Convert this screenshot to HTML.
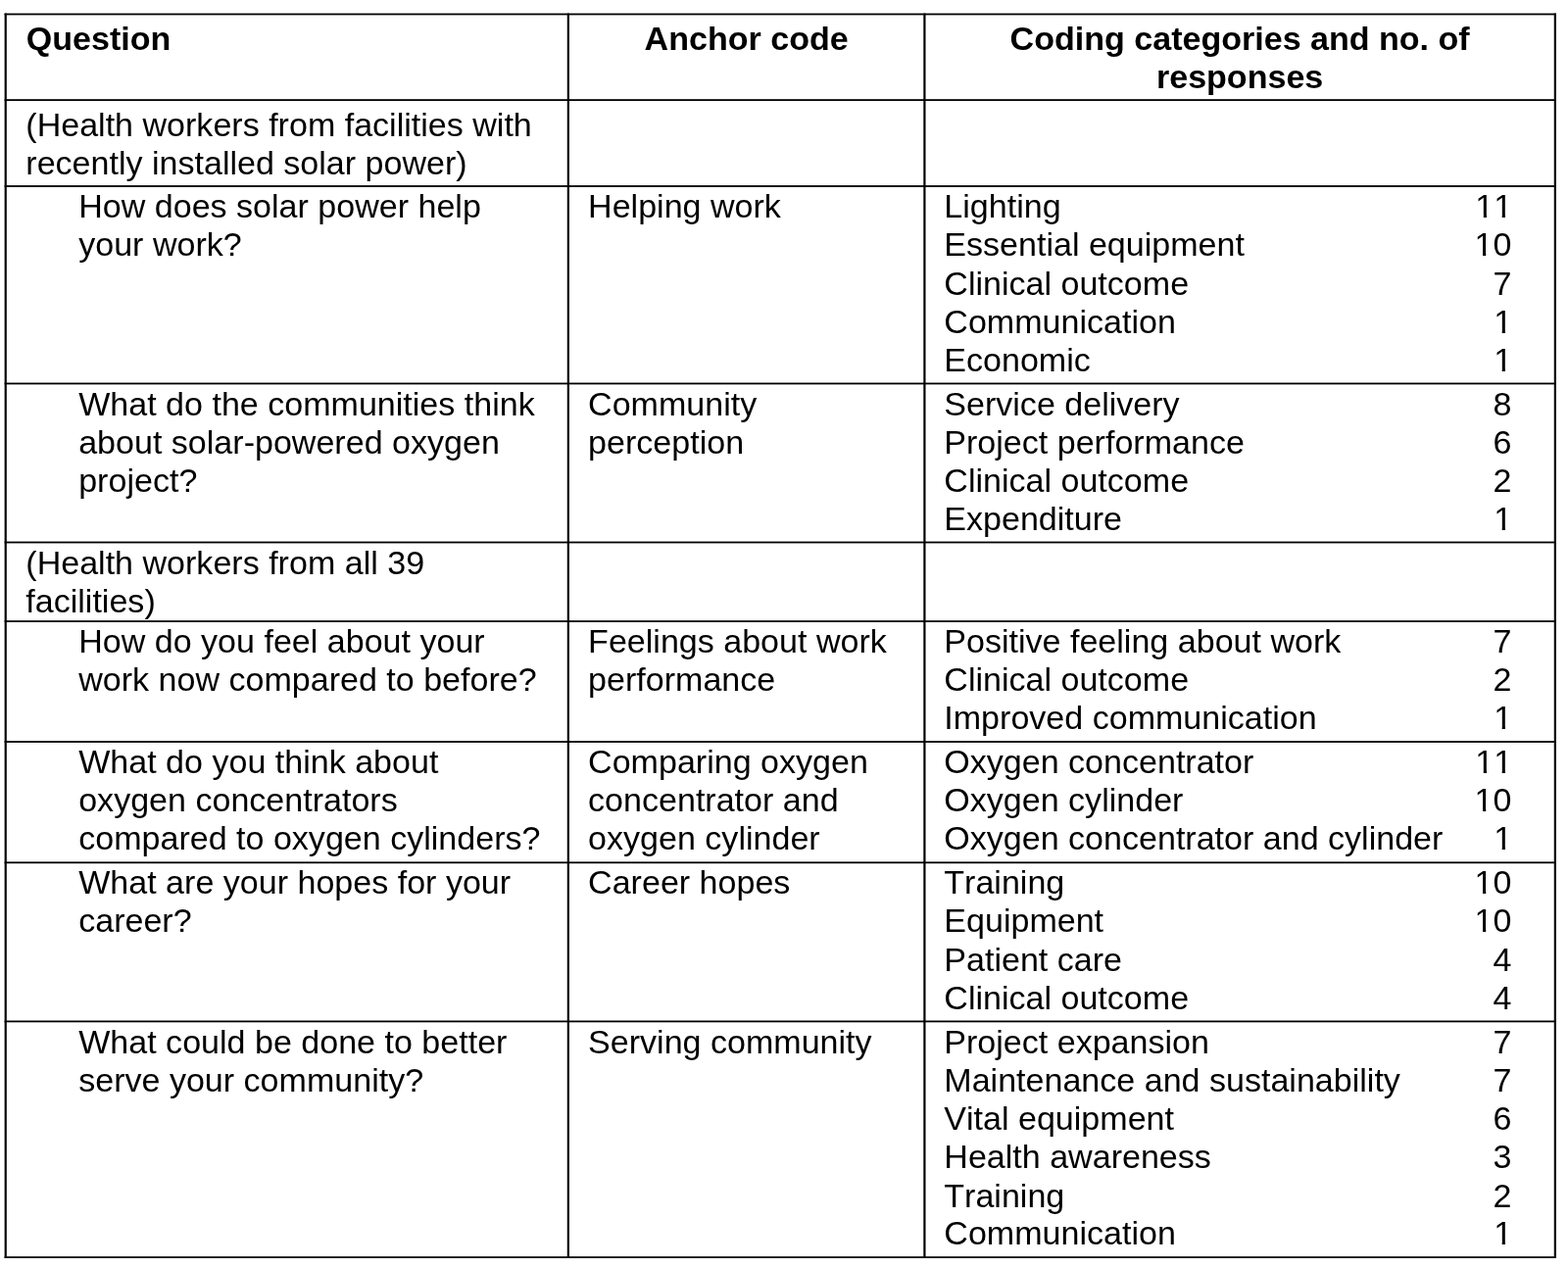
<!DOCTYPE html>
<html lang="en"><head><meta charset="utf-8"><title>Coding categories table</title>
<style>
html,body{margin:0;padding:0;background:#fff;}
body{width:1600px;height:1293px;position:relative;overflow:hidden;font-family:"Liberation Sans",Arial,Helvetica,sans-serif;color:#000;}
svg{position:absolute;left:0;top:0;}
table{position:absolute;left:6px;top:14px;width:1581px;border-collapse:collapse;border-spacing:0;table-layout:fixed;font-size:34.05px;line-height:38px;white-space:nowrap;font-kerning:none;}
td,th{padding:0;vertical-align:top;font-weight:normal;text-align:left;}
th{font-weight:bold;}
.q{padding-left:20.3px;}
.qi{padding-left:74.2px;}
.a{padding-left:20.1px;}
.r{padding-left:20.3px;padding-right:44.6px;}
th.a{padding-left:0.25px;text-align:center;}
th.r{padding-left:0.25px;padding-right:0;text-align:center;}
th.q{padding-left:20.8px;}
.l{height:39px;}
.r .l{display:flex;justify-content:space-between;}
th.r .l{display:block;}
.h40{height:40px;}
.h38{height:38px;}
.o1,.o11{position:relative;left:.8px;}
.o1{clip-path:polygon(0 0,100% 0,100% 28px,11.7px 28px,11.7px 100%,8.45px 100%,8.45px 28px,0 28px);}
.o10{clip-path:polygon(0 0,100% 0,100% 100%,18.9px 100%,18.9px 28px,11.7px 28px,11.7px 100%,8.45px 100%,8.45px 28px,0 28px);}
.o11{clip-path:polygon(0 0,100% 0,100% 28px,30.63px 28px,30.63px 100%,27.38px 100%,27.38px 28px,11.7px 28px,11.7px 100%,8.45px 100%,8.45px 28px,0 28px);}
</style></head><body>
<svg width="1600" height="1293" viewBox="0 0 1600 1293" fill="#000" aria-hidden="true">
<rect x="4.62" y="13.60" width="1583.33" height="1.8"/>
<rect x="4.62" y="101.20" width="1583.33" height="1.8"/>
<rect x="4.62" y="189.10" width="1583.33" height="1.8"/>
<rect x="4.62" y="390.55" width="1583.33" height="1.8"/>
<rect x="4.62" y="552.60" width="1583.33" height="1.8"/>
<rect x="4.62" y="633.15" width="1583.33" height="1.8"/>
<rect x="4.62" y="756.10" width="1583.33" height="1.8"/>
<rect x="4.62" y="879.40" width="1583.33" height="1.8"/>
<rect x="4.62" y="1041.50" width="1583.33" height="1.8"/>
<rect x="4.62" y="1282.20" width="1583.33" height="1.8"/>
<rect x="4.62" y="13.60" width="2.2" height="1270.40"/>
<rect x="578.75" y="13.60" width="2.2" height="1270.40"/>
<rect x="942.30" y="13.60" width="2.2" height="1270.40"/>
<rect x="1585.75" y="13.60" width="2.2" height="1270.40"/>
</svg>
<table>
<colgroup><col style="width:574px"><col style="width:363px"><col style="width:644px"></colgroup>
<tr style="height:88px">
<th class="q" style="padding-top:6px"><div class="l">Question</div></th>
<th class="a" style="padding-top:6px"><div class="l">Anchor code</div></th>
<th class="r" style="padding-top:6px"><div class="l">Coding categories and no. of</div><div class="l">responses</div></th>
</tr>
<tr style="height:88px">
<td class="q" style="padding-top:6px"><div class="l">(Health workers from facilities with</div><div class="l">recently installed solar power)</div></td>
<td class="a" style="padding-top:6px"></td>
<td class="r" style="padding-top:6px"></td>
</tr>
<tr style="height:201px">
<td class="qi" style="padding-top:1px"><div class="l">How does solar power help</div><div class="l h40">your work?</div></td>
<td class="a" style="padding-top:1px"><div class="l">Helping work</div></td>
<td class="r" style="padding-top:1px"><div class="l"><span>Lighting</span><span class="o11">11</span></div><div class="l h40"><span>Essential equipment</span><span class="o10">10</span></div><div class="l"><span>Clinical outcome</span><span>7</span></div><div class="l"><span>Communication</span><span class="o1">1</span></div><div class="l"><span>Economic</span><span class="o1">1</span></div></td>
</tr>
<tr style="height:162px">
<td class="qi" style="padding-top:2px"><div class="l">What do the communities think</div><div class="l">about solar-powered oxygen</div><div class="l">project?</div></td>
<td class="a" style="padding-top:2px"><div class="l">Community</div><div class="l">perception</div></td>
<td class="r" style="padding-top:2px"><div class="l"><span>Service delivery</span><span>8</span></div><div class="l"><span>Project performance</span><span>6</span></div><div class="l"><span>Clinical outcome</span><span>2</span></div><div class="l"><span>Expenditure</span><span class="o1">1</span></div></td>
</tr>
<tr style="height:81px">
<td class="q" style="padding-top:2px"><div class="l">(Health workers from all 39</div><div class="l">facilities)</div></td>
<td class="a" style="padding-top:2px"></td>
<td class="r" style="padding-top:2px"></td>
</tr>
<tr style="height:123px">
<td class="qi" style="padding-top:1px"><div class="l">How do you feel about your</div><div class="l">work now compared to before?</div></td>
<td class="a" style="padding-top:1px"><div class="l">Feelings about work</div><div class="l">performance</div></td>
<td class="r" style="padding-top:1px"><div class="l"><span>Positive feeling about work</span><span>7</span></div><div class="l"><span>Clinical outcome</span><span>2</span></div><div class="l"><span>Improved communication</span><span class="o1">1</span></div></td>
</tr>
<tr style="height:123px">
<td class="qi" style="padding-top:1px"><div class="l">What do you think about</div><div class="l">oxygen concentrators</div><div class="l">compared to oxygen cylinders?</div></td>
<td class="a" style="padding-top:1px"><div class="l">Comparing oxygen</div><div class="l">concentrator and</div><div class="l">oxygen cylinder</div></td>
<td class="r" style="padding-top:1px"><div class="l"><span>Oxygen concentrator</span><span class="o11">11</span></div><div class="l"><span>Oxygen cylinder</span><span class="o10">10</span></div><div class="l"><span>Oxygen concentrator and cylinder</span><span class="o1">1</span></div></td>
</tr>
<tr style="height:162px">
<td class="qi" style="padding-top:1px"><div class="l">What are your hopes for your</div><div class="l h40">career?</div></td>
<td class="a" style="padding-top:1px"><div class="l">Career hopes</div></td>
<td class="r" style="padding-top:1px"><div class="l"><span>Training</span><span class="o10">10</span></div><div class="l h40"><span>Equipment</span><span class="o10">10</span></div><div class="l"><span>Patient care</span><span>4</span></div><div class="l"><span>Clinical outcome</span><span>4</span></div></td>
</tr>
<tr style="height:241px">
<td class="qi" style="padding-top:2px"><div class="l">What could be done to better</div><div class="l">serve your community?</div></td>
<td class="a" style="padding-top:2px"><div class="l">Serving community</div></td>
<td class="r" style="padding-top:2px"><div class="l"><span>Project expansion</span><span>7</span></div><div class="l"><span>Maintenance and sustainability</span><span>7</span></div><div class="l"><span>Vital equipment</span><span>6</span></div><div class="l h40"><span>Health awareness</span><span>3</span></div><div class="l h38"><span>Training</span><span>2</span></div><div class="l h38"><span>Communication</span><span class="o1">1</span></div></td>
</tr>
</table>
</body></html>
